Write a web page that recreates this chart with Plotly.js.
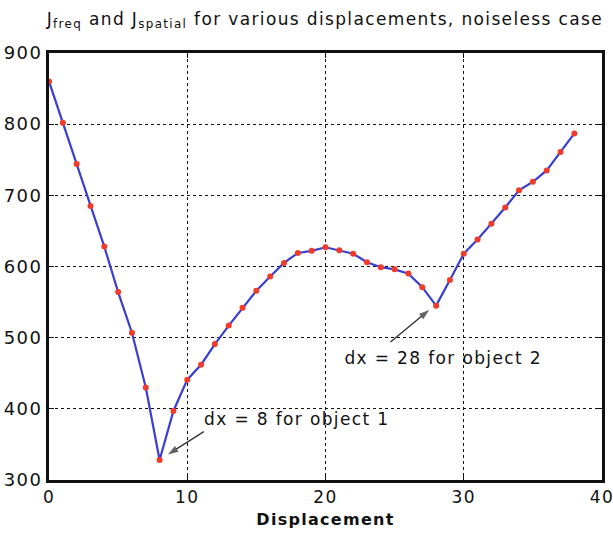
<!DOCTYPE html>
<html>
<head>
<meta charset="utf-8">
<script src="https://cdn.plot.ly/plotly-3.0.1.min.js"></script>
<style>
  html, body { margin: 0; padding: 0; background: #fff; }
  #chart { width: 613px; height: 534px; }
  #chart svg text { letter-spacing: 0.08em; }
</style>
</head>
<body>
<div id="chart"></div>
<script>
// Displacement (pixels) and the cost J for each shift
const displacement = [0,1,2,3,4,5,6,7,8,9,10,11,12,13,14,15,16,17,18,19,20,
                      21,22,23,24,25,26,27,28,29,30,31,32,33,34,35,36,37,38];
const costJ = [860,802,744,685,628,564,507,430,328,397,441,462,491,517,542,566,586,605,619,622,627,
               623,618,606,599,596,590,571,545,581,618,638,660,683,707,719,735,761,787];

// Minima called out on the curve
const minLabels = ['dx = 8 for object 1', 'dx = 28 for object 2'];
const minLabelPos = [[12.0, 386], [22.2, 471]];
const arrowTail = [[11.2, 368], [24.7, 494]];
const arrowHead = [[8.6, 336], [27.5, 539]];

const font = 'DejaVu Sans, Verdana, sans-serif';

const traces = [
  {
    x: displacement, y: costJ, mode: 'lines',
    line: { color: '#3a3fd0', width: 2.2 },
    hoverinfo: 'skip', showlegend: false
  },
  {
    x: displacement, y: costJ, mode: 'markers',
    marker: { color: '#f03a2a', size: 6 },
    showlegend: false
  }
];

// Callout arrows: a line segment ending in an arrow marker aligned with it
for (let i = 0; i < arrowTail.length; i++) {
  traces.push({
    x: [arrowTail[i][0], arrowHead[i][0]],
    y: [arrowTail[i][1], arrowHead[i][1]],
    mode: 'lines+markers',
    line: { color: '#333', width: 1.4 },
    marker: { symbol: ['circle', 'arrow'], size: [0, 11], angleref: 'previous',
              color: '#222', line: { width: 0 } },
    hoverinfo: 'skip', showlegend: false
  });
}

const annotations = minLabels.map((t, i) => ({
  x: minLabelPos[i][0], y: minLabelPos[i][1], xref: 'x', yref: 'y',
  text: t, showarrow: false, xanchor: 'left', yanchor: 'middle',
  font: { family: font, size: 17, color: '#111' }
}));

const axisCommon = {
  showline: true, mirror: 'ticks', linecolor: '#111', linewidth: 3,
  ticks: 'inside', ticklen: 5, tickcolor: '#111', tickwidth: 1,
  showgrid: true, gridcolor: '#111', griddash: 'dot', gridwidth: 1.3,
  zeroline: false, ticklabeloverflow: 'allow',
  tickfont: { family: font, size: 18, color: '#111' }
};

const layout = {
  width: 613, height: 534,
  margin: { l: 49, r: 11, t: 53, b: 54 },
  paper_bgcolor: '#fff', plot_bgcolor: '#fff',
  title: {
    text: 'J<sub>freq</sub> and J<sub>spatial</sub> for various displacements, noiseless case',
    font: { family: font, size: 17, color: '#111' },
    x: 0.53, xanchor: 'center', y: 0.965, yanchor: 'middle'
  },
  xaxis: Object.assign({}, axisCommon, {
    range: [0, 40], tickvals: [0, 10, 20, 30, 40], ticklabelstandoff: 0,
    tickfont: { family: font, size: 17, color: '#111' },
    title: { text: '<b>Displacement</b>', font: { family: font, size: 16, color: '#111' }, standoff: 8 }
  }),
  yaxis: Object.assign({}, axisCommon, {
    range: [300, 900], tickvals: [300, 400, 500, 600, 700, 800, 900], ticklabelstandoff: 0
  }),
  annotations: annotations
};

Plotly.newPlot('chart', traces, layout, { displayModeBar: false, staticPlot: true });
</script>
</body>
</html>
